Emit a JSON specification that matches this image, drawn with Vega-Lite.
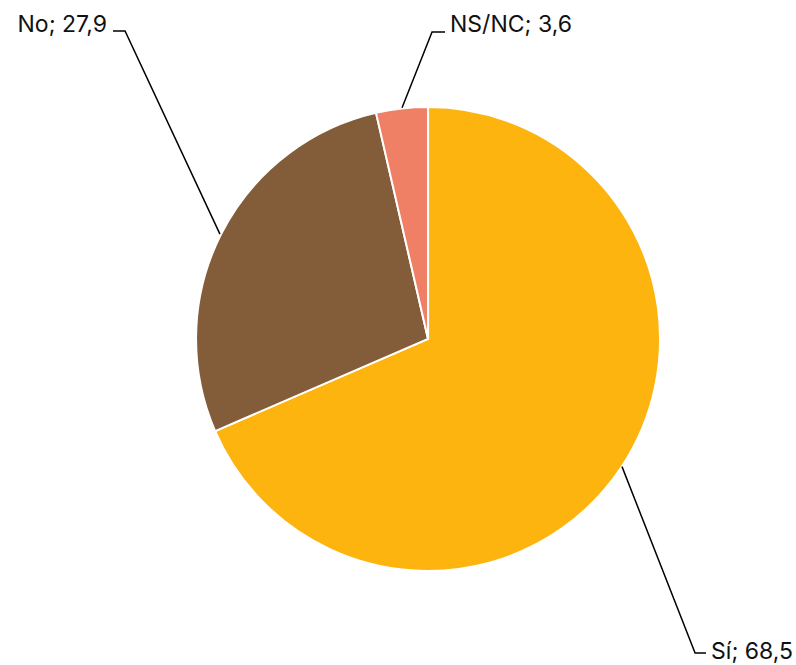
{
  "$schema": "https://vega.github.io/schema/vega-lite/v6.json",
  "width": 796,
  "height": 665,
  "padding": 0,
  "autosize": {"type": "fit", "contains": "padding"},
  "config": {"view": {"stroke": null}},
  "datasets": {
    "slices": [
      {"cat": "Sí", "value": 68.5, "ord": 1},
      {"cat": "No", "value": 27.9, "ord": 2},
      {"cat": "NS/NC", "value": 3.6, "ord": 3}
    ],
    "leaders": [
      {"cat": "Sí", "step": 1, "x": 0.836, "y": -0.552},
      {"cat": "Sí", "step": 2, "x": 1.151, "y": -1.358},
      {"cat": "Sí", "step": 3, "x": 1.198, "y": -1.358},
      {"cat": "No", "step": 1, "x": -0.897, "y": 0.453},
      {"cat": "No", "step": 2, "x": -1.306, "y": 1.332},
      {"cat": "No", "step": 3, "x": -1.358, "y": 1.332},
      {"cat": "NS/NC", "step": 1, "x": -0.112, "y": 1.0},
      {"cat": "NS/NC", "step": 2, "x": 0.0172, "y": 1.3276},
      {"cat": "NS/NC", "step": 3, "x": 0.0733, "y": 1.3276}
    ],
    "labels": [
      {"label": "Sí; 68,5", "x": 1.22, "y": -1.384, "side": "right"},
      {"label": "No; 27,9", "x": -1.384, "y": 1.3276, "side": "left"},
      {"label": "NS/NC; 3,6", "x": 0.0948, "y": 1.3276, "side": "right"}
    ]
  },
  "layer": [
    {
      "data": {"name": "slices"},
      "mark": {"type": "arc", "outerRadius": 232, "stroke": "white", "strokeWidth": 2},
      "encoding": {
        "x": {"datum": 0, "type": "quantitative", "scale": {"domain": [-1.845, 1.586], "nice": false, "zero": false}, "axis": null},
        "y": {"datum": 0, "type": "quantitative", "scale": {"domain": [-1.401, 1.4655], "nice": false, "zero": false}, "axis": null},
        "theta": {"field": "value", "type": "quantitative", "stack": true},
        "order": {"field": "ord", "type": "quantitative"},
        "color": {
          "field": "cat", "type": "nominal", "legend": null,
          "scale": {"domain": ["Sí", "No", "NS/NC"], "range": ["#FDB40F", "#835C3A", "#EF7F65"]}
        }
      }
    },
    {
      "data": {"name": "leaders"},
      "mark": {"type": "line", "color": "#000000", "strokeWidth": 1.5},
      "encoding": {
        "x": {"field": "x", "type": "quantitative", "axis": null},
        "y": {"field": "y", "type": "quantitative", "axis": null},
        "detail": {"field": "cat"},
        "order": {"field": "step", "type": "quantitative"}
      }
    },
    {
      "data": {"name": "labels"},
      "transform": [{"filter": "datum.side === 'right'"}],
      "mark": {"type": "text", "fontSize": 23, "font": "Inter", "color": "#111111", "baseline": "alphabetic", "align": "left"},
      "encoding": {
        "x": {"field": "x", "type": "quantitative", "axis": null},
        "y": {"field": "y", "type": "quantitative", "axis": null},
        "text": {"field": "label"}
      }
    },
    {
      "data": {"name": "labels"},
      "transform": [{"filter": "datum.side === 'left'"}],
      "mark": {"type": "text", "fontSize": 23, "font": "Inter", "color": "#111111", "baseline": "alphabetic", "align": "right"},
      "encoding": {
        "x": {"field": "x", "type": "quantitative", "axis": null},
        "y": {"field": "y", "type": "quantitative", "axis": null},
        "text": {"field": "label"}
      }
    }
  ]
}
